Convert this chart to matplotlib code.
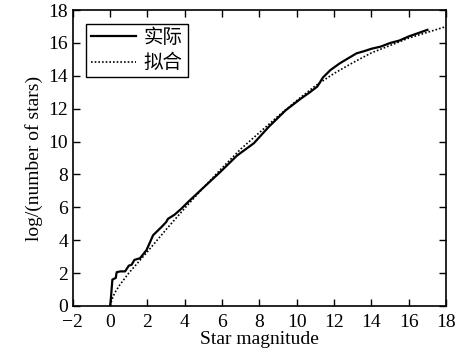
import numpy as np
import matplotlib.pyplot as plt

mag_actual = [0, 0.03, 0.07, 0.12, 0.3, 0.35, 0.55, 0.8, 1.0, 1.15, 1.3, 1.6, 1.95,
              2.3, 2.75, 3.0, 3.1, 3.45, 3.8, 4.2, 5.0, 5.9, 6.8, 7.7, 8.5, 9.4,
              10.2, 10.7, 11.1, 11.4, 11.8, 12.3, 12.8, 13.2, 13.6, 14.0, 14.5,
              15.0, 15.5, 16.0, 16.5, 17.0]
log_actual = [0, 0.3, 0.9, 1.6, 1.7, 2.05, 2.1, 2.1, 2.45, 2.5, 2.8, 2.9, 3.4,
              4.3, 4.8, 5.1, 5.3, 5.55, 5.9, 6.35, 7.2, 8.15, 9.15, 9.9, 10.9, 11.9,
              12.6, 13.0, 13.35, 13.9, 14.35, 14.76, 15.1, 15.37, 15.5, 15.65, 15.78,
              16.0, 16.15, 16.4, 16.6, 16.8]

# fitted curve
mag_fit = [0, 0.1, 0.25, 0.5, 1, 1.5, 2, 3, 4, 5, 6, 7, 8, 9, 10, 11, 12, 13,
           14, 15, 16, 17, 18]
log_fit = [0, 0.4, 0.8, 1.25, 2.0, 2.65, 3.3, 4.65, 5.95, 7.2, 8.4, 9.55, 10.55,
           11.55, 12.5, 13.4, 14.15, 14.8, 15.4, 15.85, 16.3, 16.65, 17.0]

plt.rcParams['font.family'] = ['Liberation Serif', 'Noto Sans CJK SC']

fig = plt.figure(figsize=(4.58, 3.62), dpi=100)
ax = fig.add_axes([0.159, 0.155, 0.815, 0.817])

ax.plot(mag_actual, log_actual, color='black', linewidth=1.6, label='实际')
ax.plot(mag_fit, log_fit, color='black', linewidth=1.2, linestyle=(0, (1, 1.2)), label='拟合')

ax.set_xlim(-2, 18)
ax.set_ylim(0, 18)
ax.set_xticks(np.arange(-2, 19, 2))
ax.set_yticks(np.arange(0, 19, 2))
ax.tick_params(direction='in', top=True, right=True, labelsize=14, length=5, width=1)
ax.tick_params(axis='x', pad=6)
for s in ax.spines.values():
    s.set_linewidth(1.2)

ax.set_xlabel('Star magnitude', fontsize=14, labelpad=0)
ax.set_ylabel('log/(number of stars)', fontsize=14, labelpad=4)

leg = ax.legend(loc='upper left', fontsize=14, frameon=True, fancybox=False,
                edgecolor='black', framealpha=1, handlelength=2.3,
                borderpad=0.25, labelspacing=0.35, handletextpad=0.4,
                borderaxespad=0.7)
leg.get_frame().set_linewidth(1.0)

fig.savefig('out.png', dpi=100)
